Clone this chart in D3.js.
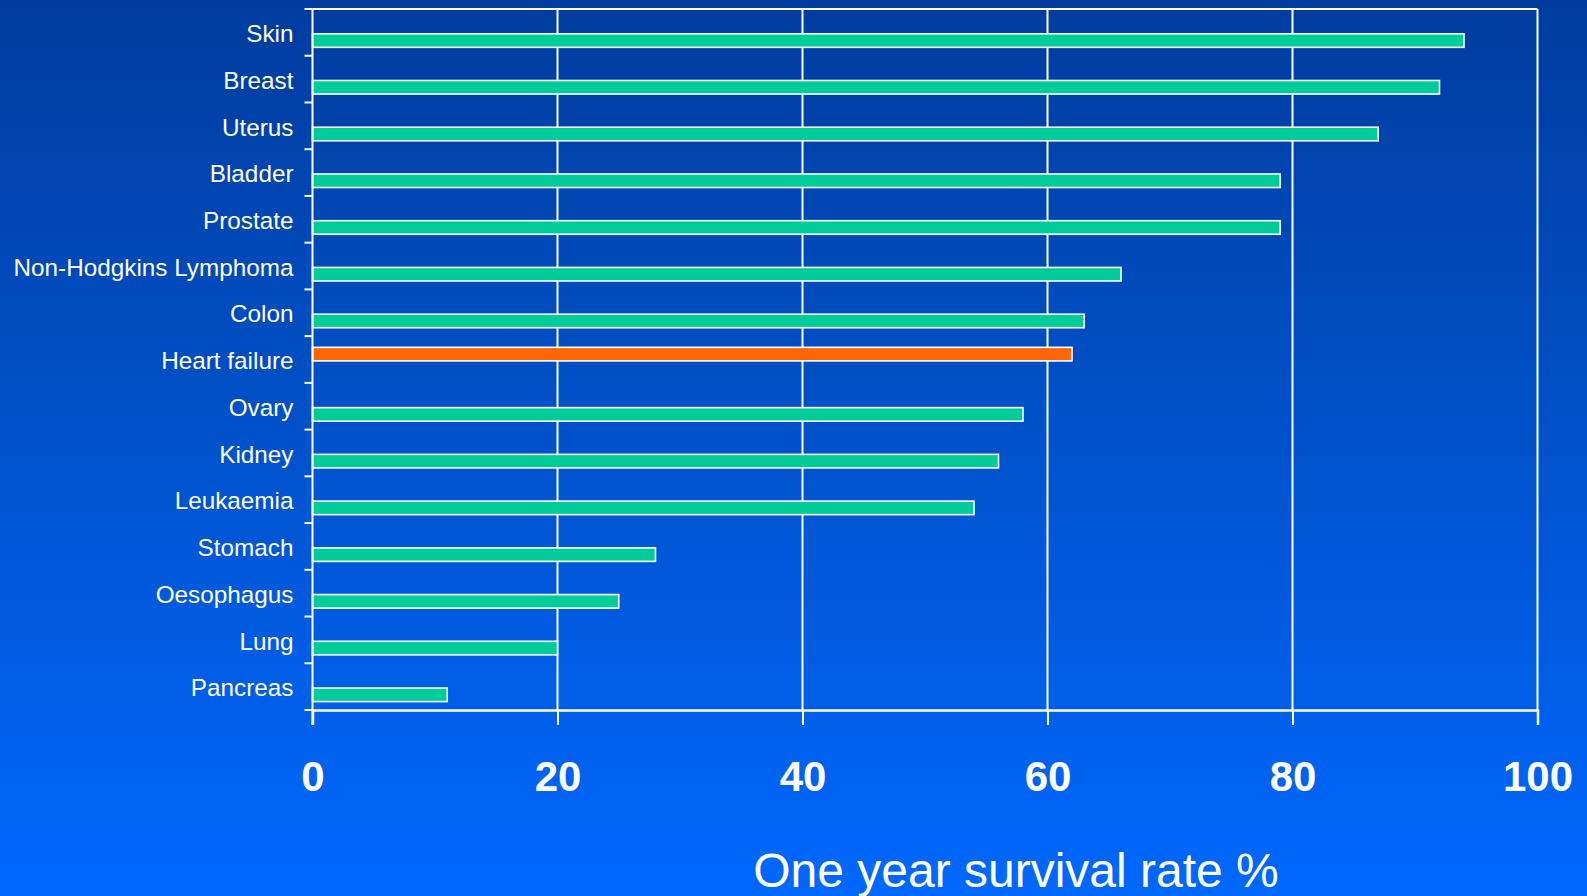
<!DOCTYPE html>
<html>
<head>
<meta charset="utf-8">
<script src="https://cdn.jsdelivr.net/npm/d3@7"></script>
<style>
  html, body { margin: 0; padding: 0; overflow: hidden; }
  svg { display: block; }
</style>
</head>
<body>
<svg id="chart" width="1587" height="896"></svg>
<script>
// One-year survival rates (%) by condition
const categories = [
  "Skin", "Breast", "Uterus", "Bladder", "Prostate", "Non-Hodgkins Lymphoma",
  "Colon", "Heart failure", "Ovary", "Kidney", "Leukaemia", "Stomach",
  "Oesophagus", "Lung", "Pancreas"
];
const cancerSurvival =       [94, 92, 87, 79, 79, 66, 63, null, 58, 56, 54, 28, 25, 20, 11];
const heartFailureSurvival = [null, null, null, null, null, null, null, 62, null, null, null, null, null, null, null];
const seriesNames = ["heartFailure", "cancer"];
const seriesColors = ["#FF6600", "#00CC99"];
const xTicks = [0, 20, 40, 60, 80, 100];
const xTitle = "One year survival rate %";

const W = 1587, H = 896;
const plot = { left: 312.5, right: 1537.5, top: 9, bottom: 710 };

const svg = d3.select("#chart");

// background gradient, dark navy at top to bright blue at bottom
const defs = svg.append("defs");
const grad = defs.append("linearGradient")
  .attr("id", "bg").attr("x1", 0).attr("y1", 0).attr("x2", 0).attr("y2", 1);
grad.append("stop").attr("offset", "0%").attr("stop-color", "#003c9e");
grad.append("stop").attr("offset", "50%").attr("stop-color", "#0052cc");
grad.append("stop").attr("offset", "100%").attr("stop-color", "#0068ff");
svg.append("rect").attr("width", W).attr("height", H).attr("fill", "url(#bg)");

const x = d3.scaleLinear().domain([0, 100]).range([plot.left, plot.right]);
const y = d3.scaleBand().domain(categories).range([plot.top, plot.bottom]).padding(0);
const bw = y.bandwidth();
const ySub = d3.scaleBand().domain(seriesNames).range([bw * 0.24, bw * 0.82]).padding(0);

const g = svg.append("g");

// vertical gridlines and top border
g.append("g").selectAll("line")
  .data(xTicks.slice(1))
  .join("line")
  .attr("x1", d => x(d)).attr("x2", d => x(d))
  .attr("y1", plot.top).attr("y2", plot.bottom)
  .attr("stroke", "#fff").attr("stroke-width", 2);
g.append("line")
  .attr("x1", plot.left).attr("x2", plot.right)
  .attr("y1", plot.top).attr("y2", plot.top)
  .attr("stroke", "#fff").attr("stroke-width", 2);

// bars
const rows = categories.map((c, i) => ({ c, heartFailure: heartFailureSurvival[i], cancer: cancerSurvival[i] }));
const barData = [];
rows.forEach(r => seriesNames.forEach((s, si) => {
  if (r[s] != null) barData.push({ c: r.c, s, v: r[s], color: seriesColors[si] });
}));
g.append("g").selectAll("rect")
  .data(barData)
  .join("rect")
  .attr("x", x(0))
  .attr("y", d => y(d.c) + ySub(d.s))
  .attr("width", d => x(d.v) - x(0))
  .attr("height", ySub.bandwidth())
  .attr("fill", d => d.color)
  .attr("stroke", "#fff")
  .attr("stroke-width", 1.6);

// x axis
const xAxis = d3.axisBottom(x).tickValues(xTicks).tickSize(15).tickPadding(36).tickFormat(d3.format("d"));
const gx = g.append("g").attr("transform", `translate(0,${plot.bottom})`).call(xAxis);
gx.select(".domain").attr("stroke", "#fff").attr("stroke-width", 2.5);
gx.selectAll(".tick line").attr("stroke", "#fff").attr("stroke-width", 2);
gx.selectAll(".tick text")
  .attr("fill", "#fff")
  .attr("font-family", "Liberation Sans, Arial, sans-serif")
  .attr("font-weight", "bold")
  .attr("font-size", 42);

// y axis: ticks at category boundaries, labels centred in bands
const gy = g.append("g").attr("transform", `translate(${plot.left},0)`);
gy.append("line")
  .attr("x1", 0).attr("x2", 0).attr("y1", plot.top).attr("y2", plot.bottom + 15)
  .attr("stroke", "#fff").attr("stroke-width", 2);
const boundaries = d3.range(categories.length + 1).map(i => plot.top + i * bw);
gy.selectAll(".ytick")
  .data(boundaries)
  .join("line")
  .attr("class", "ytick")
  .attr("x1", -8).attr("x2", 0)
  .attr("y1", d => d).attr("y2", d => d)
  .attr("stroke", "#fff").attr("stroke-width", 2);
gy.selectAll(".ylabel")
  .data(categories)
  .join("text")
  .attr("class", "ylabel")
  .attr("x", -19)
  .attr("y", d => y(d) + bw / 2)
  .attr("dy", "0.4em")
  .attr("text-anchor", "end")
  .attr("fill", "#fff")
  .attr("font-family", "Liberation Sans, Arial, sans-serif")
  .attr("font-size", 24.3)
  .text(d => d);

// axis title
svg.append("text")
  .attr("x", 1016).attr("y", 887)
  .attr("text-anchor", "middle")
  .attr("fill", "#fff")
  .attr("font-family", "Liberation Sans, Arial, sans-serif")
  .attr("font-size", 48)
  .text(xTitle);
</script>
</body>
</html>
